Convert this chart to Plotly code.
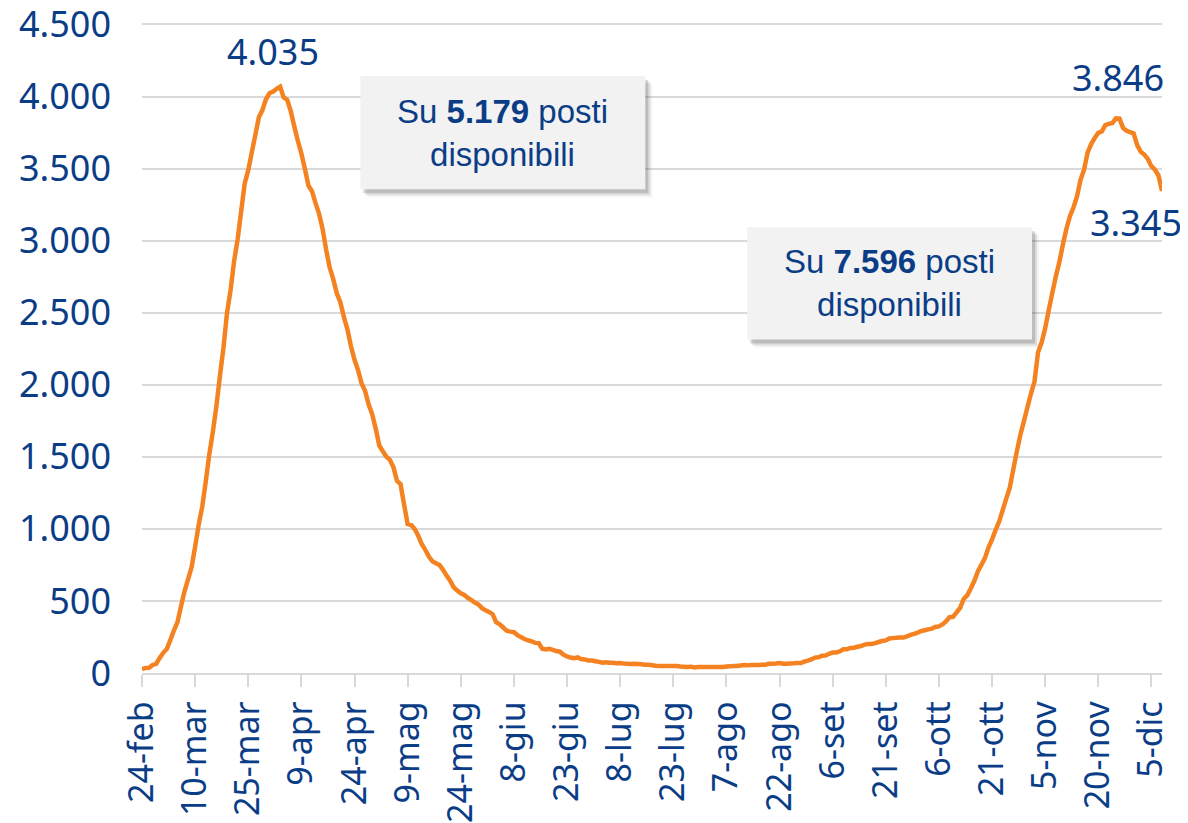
import pandas as pd
import plotly.graph_objects as go

# terapia intensiva, occupati giornalieri 2020 (24-feb .. 8-dic)
icu_feb = [26, 35, 36, 56, 64, 105]
icu_mar = [140, 166, 229, 295, 351, 462, 567, 650, 733, 877,
           1028, 1153, 1328, 1518, 1672, 1851, 2060, 2257, 2498, 2655,
           2857, 3009, 3204, 3396, 3489, 3612, 3732, 3856, 3906, 3981, 4023]
icu_apr = [4035, 4053, 4068, 3994, 3977, 3898, 3792, 3693, 3605, 3497,
           3381, 3343, 3260, 3186, 3079, 2936, 2812, 2733, 2635, 2573,
           2471, 2384, 2267, 2173, 2102, 2009, 1956, 1863, 1795, 1694]
icu_mag = [1578, 1539, 1501, 1479, 1427, 1333, 1311, 1168, 1034, 1027,
           999, 952, 893, 855, 808, 775, 762, 749, 716, 676,
           640, 595, 572, 553, 541, 521, 505, 489, 475, 450, 435]
icu_giu = [424, 408, 353, 338, 316, 293, 287, 283, 263, 249,
           236, 227, 220, 209, 207, 168, 163, 168, 161, 152,
           148, 127, 115, 107, 103, 108, 97, 94, 87, 87]
icu_lug = [82, 77, 72, 74, 71, 71, 67, 69, 65, 64,
           63, 64, 62, 60, 57, 57, 54, 50, 49, 48,
           49, 48, 48, 49, 45, 43, 41, 44, 38, 41, 42]
icu_ago = [41, 41, 42, 41, 41, 42, 45, 46, 49, 49,
           52, 55, 53, 56, 55, 56, 58, 58, 64, 65,
           66, 69, 64, 65, 66, 67, 69, 69, 79, 86, 94]
icu_set = [107, 109, 120, 121, 133, 142, 143, 150, 164, 164,
           174, 175, 182, 187, 197, 201, 201, 207, 215, 222,
           226, 239, 242, 244, 247, 246, 254, 264, 271, 280]
icu_ott = [291, 297, 303, 308, 319, 323, 337, 358, 387, 390,
           420, 452, 514, 539, 586, 638, 705, 750, 797, 870,
           926, 992, 1049, 1128, 1208, 1284, 1411, 1536, 1651, 1746, 1843]
icu_nov = [1939, 2022, 2225, 2292, 2391, 2515, 2634, 2749, 2849, 2971,
           3081, 3170, 3230, 3306, 3422, 3492, 3612, 3670, 3712, 3748,
           3758, 3801, 3810, 3816, 3848, 3846, 3782, 3762, 3753, 3744]
icu_dic = [3663, 3616, 3597, 3567, 3517, 3492, 3452, 3345]

start_date = "2020-02-24"
end_date = "2020-12-08"

tick_dates = ["2020-02-24", "2020-03-10", "2020-03-25", "2020-04-09", "2020-04-24",
              "2020-05-09", "2020-05-24", "2020-06-08", "2020-06-23", "2020-07-08",
              "2020-07-23", "2020-08-07", "2020-08-22", "2020-09-06", "2020-09-21",
              "2020-10-06", "2020-10-21", "2020-11-05", "2020-11-20", "2020-12-05"]
tick_labels = ["24-feb", "10-mar", "25-mar", "9-apr", "24-apr", "9-mag", "24-mag",
               "8-giu", "23-giu", "8-lug", "23-lug", "7-ago", "22-ago", "6-set",
               "21-set", "6-ott", "21-ott", "5-nov", "20-nov", "5-dic"]
y_ticks = [0, 500, 1000, 1500, 2000, 2500, 3000, 3500, 4000, 4500]

# etichette dei valori (testo come nel grafico)
peak1_date, peak1_text = "2020-04-03", "4.035"
peak2_date, peak2_text = "2020-11-26", "3.846"
last_text = "3.345"

box_texts = ["Su <b>5.179</b> posti<br>disponibili", "Su <b>7.596</b> posti<br>disponibili"]

BLUE = "#0B3D87"
ORANGE = "#F58220"
GRID = "#d9d9d9"

values = icu_feb + icu_mar + icu_apr + icu_mag + icu_giu + icu_lug + icu_ago + icu_set + icu_ott + icu_nov + icu_dic
dates = pd.date_range(start_date, periods=len(values), freq="D")
series = pd.Series(values, index=dates)

fig = go.Figure()
fig.add_trace(
    go.Scatter(
        x=dates,
        y=values,
        mode="lines",
        line=dict(color=ORANGE, width=4.5, simplify=False),
        cliponaxis=False,
        hovertemplate="%{x|%d-%b}: %{y:,d}<extra></extra>",
    )
)

label_font = dict(family="Noto Sans, DejaVu Sans", size=36, color=BLUE)
fig.add_annotation(x=peak1_date, y=series[peak1_date], text=peak1_text, showarrow=False,
                   xanchor="center", yanchor="middle", xshift=-7, yshift=35, font=label_font)
fig.add_annotation(x=peak2_date, y=series[peak2_date], text=peak2_text, showarrow=False,
                   xanchor="center", yanchor="middle", xshift=-2, yshift=41, font=label_font)
fig.add_annotation(x=dates[-1], y=series.iloc[-1], text=last_text, showarrow=False,
                   xanchor="center", yanchor="middle", xshift=-26, yshift=-32, font=label_font)

# riquadri "posti disponibili" (coordinate carta)
boxes = [(0.2141, 0.4934, 0.7442, 0.9183), (0.5933, 0.8726, 0.5131, 0.6857)]
px_x, px_y = 1 / 1020.5, 1 / 650.4
for (x0, x1, y0, y1), txt in zip(boxes, box_texts):
    for off, alpha in [(7, 0.06), (5, 0.12), (3, 0.2)]:
        fig.add_shape(type="rect", xref="paper", yref="paper", layer="above",
                      x0=x0 + off * px_x, x1=x1 + off * px_x,
                      y0=y0 - (off + 1) * px_y, y1=y1 - (off + 1) * px_y,
                      line=dict(width=0), fillcolor=f"rgba(60,60,60,{alpha})")
    fig.add_shape(type="rect", xref="paper", yref="paper", layer="above",
                  x0=x0, x1=x1, y0=y0, y1=y1,
                  line=dict(width=0), fillcolor="#f2f2f2")
    fig.add_annotation(xref="paper", yref="paper", x=(x0 + x1) / 2, y=(y0 + y1) / 2,
                       xanchor="center", yanchor="middle",
                       text=txt, showarrow=False, align="center",
                       font=dict(family="Liberation Sans, Arial", size=33, color=BLUE))

# la pagina ha un margine di 8 px: figura 1180x815
fig.update_layout(
    width=1180,
    height=815,
    margin=dict(l=133.5, r=26, t=14.6, b=150, autoexpand=False),
    paper_bgcolor="white",
    plot_bgcolor="white",
    showlegend=False,
    separators=",.",
    font=dict(family="Noto Sans, DejaVu Sans", size=36, color=BLUE),
)
fig.update_xaxes(
    type="date",
    range=[start_date, end_date],
    tickvals=tick_dates,
    ticktext=tick_labels,
    tickangle=-90,
    tickfont=dict(family="Noto Sans, DejaVu Sans", size=34, color=BLUE),
    ticks="outside",
    ticklen=12,
    tickwidth=1.5,
    tickcolor=GRID,
    ticklabelstandoff=1,
    ticklabeloverflow="allow",
    showgrid=False,
    showline=True,
    linecolor=GRID,
    linewidth=1.5,
    zeroline=False,
    automargin=False,
)
fig.update_yaxes(
    range=[0, 4510],
    tickvals=y_ticks,
    tickformat=",d",
    tickfont=dict(family="Noto Sans, DejaVu Sans", size=36, color=BLUE),
    showgrid=True,
    gridcolor=GRID,
    gridwidth=1.5,
    zeroline=False,
    showline=False,
    ticks="",
    ticklabelstandoff=30,
    ticklabeloverflow="allow",
    automargin=False,
)

fig.write_html("out.html")
